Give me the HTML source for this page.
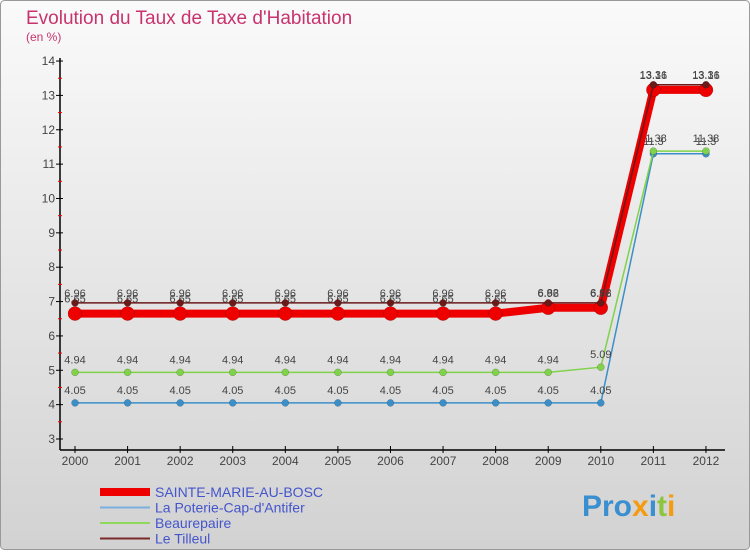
<!DOCTYPE html>
<html><head><meta charset="utf-8"><style>
body{margin:0;width:750px;height:550px;overflow:hidden;font-family:"Liberation Sans",sans-serif}
</style></head><body>
<svg width="750" height="550" xmlns="http://www.w3.org/2000/svg">
<defs><linearGradient id="bg" x1="0" y1="0" x2="0" y2="1"><stop offset="0" stop-color="#fafafa"/><stop offset="1" stop-color="#d2d2d2"/></linearGradient></defs>
<rect x="0.5" y="0.5" width="749" height="549" rx="4" fill="url(#bg)" stroke="#999"/>
<text x="26" y="24" font-size="19" fill="#c8336e">Evolution du Taux de Taxe d'Habitation</text>
<text x="26" y="41" font-size="12" fill="#c8336e">(en %)</text>
<g id="axes"></g><g id="series"></g><g id="legend"></g>
<text x="582" y="516" font-size="30" font-weight="bold" fill="#3a8fd0">Pro<tspan fill="#f39c12">x</tspan><tspan fill="#3a8fd0">i</tspan><tspan fill="#8cc63f">t</tspan><tspan fill="#f39c12">i</tspan></text>
</svg>
<script>
const years=[2000,2001,2002,2003,2004,2005,2006,2007,2008,2009,2010,2011,2012];
const yTicks=[3,4,5,6,7,8,9,10,11,12,13,14];
const sainteMarie=[6.65,6.65,6.65,6.65,6.65,6.65,6.65,6.65,6.65,6.82,6.82,13.16,13.16];
const poterie=[4.05,4.05,4.05,4.05,4.05,4.05,4.05,4.05,4.05,4.05,4.05,11.3,11.3];
const beaurepaire=[4.94,4.94,4.94,4.94,4.94,4.94,4.94,4.94,4.94,4.94,5.09,11.38,11.38];
const tilleul=[6.96,6.96,6.96,6.96,6.96,6.96,6.96,6.96,6.96,6.96,6.96,13.31,13.31];
const NS="http://www.w3.org/2000/svg";
const xs=i=>75+i*52.58;
const ys=v=>439-(v-3)*34.36;
function mk(t,a,p){const e=document.createElementNS(NS,t);for(const k in a)e.setAttribute(k,a[k]);p.appendChild(e);return e;}
const ax=document.getElementById('axes');
let l=mk('line',{x1:60,y1:58,x2:60,y2:450,stroke:'#000','stroke-width':1.5},ax);


l=mk('line',{x1:60,y1:450,x2:725,y2:450,stroke:'#000','stroke-width':1.5},ax);


yTicks.forEach(v=>{const y=ys(v);mk('line',{x1:56,y1:y,x2:63,y2:y,stroke:'#000'},ax);
if(v<14)mk('line',{x1:58,y1:y-17.18,x2:62,y2:y-17.18,stroke:'#e00'},ax);
const t=mk('text',{x:55,y:y+4,'font-size':12,'text-anchor':'end',fill:'#444'},ax);t.textContent=v;

});
years.forEach((yr,i)=>{const x=xs(i);mk('line',{x1:x,y1:446,x2:x,y2:453,stroke:'#000'},ax);
const t=mk('text',{x:x,y:465,'font-size':12,'text-anchor':'middle',fill:'#444'},ax);t.textContent=yr;

});
const sg=document.getElementById('series');
function draw(vals,color,w,r,name,dy){const g=mk('g',{},sg);


mk('polyline',{points:vals.map((v,i)=>xs(i)+','+ys(v)).join(' '),fill:'none',stroke:color,'stroke-width':w,'stroke-linejoin':'round'},g);
vals.forEach((v,i)=>{const c=mk('circle',{cx:xs(i),cy:ys(v),r:r,fill:color,stroke:'rgba(0,0,0,0.3)','stroke-width':0.5},g);


const t=mk('text',{x:xs(i),y:ys(v)+dy,'font-size':11,'text-anchor':'middle',fill:'#444'},g);t.textContent=String(v).replace('.',',').replace(',','.');

});}
draw(poterie,'#3b8fc8',1.5,3.5,'series-la-poterie',-9);
draw(beaurepaire,'#7fd24a',1.5,3.5,'series-beaurepaire',-9);
draw(sainteMarie,'#ee0000',8,7,'series-sainte-marie',-11);
draw(tilleul,'#6b1a1a',1.5,3.5,'series-le-tilleul',-6);
const lg=document.getElementById('legend');
[['SAINTE-MARIE-AU-BOSC','#ee0000',8],['La Poterie-Cap-d\'Antifer','#7aaede',2],['Beaurepaire','#8fd85c',2],['Le Tilleul','#7a2a2a',2]].forEach((d,i)=>{
const y=492+i*15.5;const g=mk('g',{},lg);


mk('line',{x1:100,y1:y,x2:150,y2:y,stroke:d[1],'stroke-width':d[2]},g);
const t=mk('text',{x:155,y:y+5,'font-size':14,fill:'#4455cc'},g);t.textContent=d[0];});
</script>
</body></html>
